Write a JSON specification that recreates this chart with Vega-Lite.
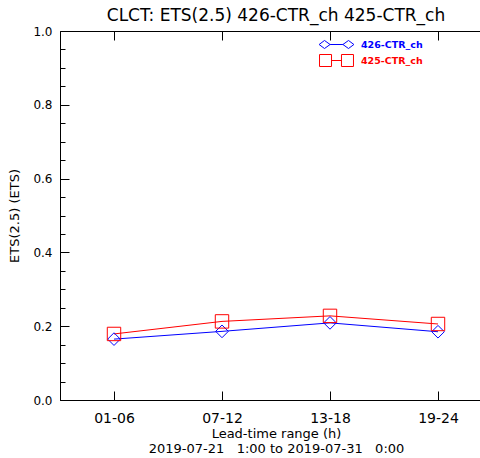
{
  "$schema": "https://vega.github.io/schema/vega-lite/v6.json",
  "autosize": "none",
  "padding": {"left": 60, "top": 31, "right": 10, "bottom": 58},
  "width": 432,
  "height": 369,
  "background": "white",
  "title": {"text": "CLCT: ETS(2.5) 426-CTR_ch 425-CTR_ch", "font": "DejaVu Sans", "fontSize": 17, "fontWeight": "normal", "color": "black", "anchor": "middle", "offset": 0},
  "config": {
    "view": {"stroke": "black", "strokeWidth": 1},
    "axis": {"domainColor": "black", "tickColor": "black", "labelColor": "black", "titleColor": "black", "labelFont": "DejaVu Sans", "titleFont": "DejaVu Sans", "titleFontWeight": "normal", "labelFontWeight": "normal", "grid": false}
  },
  "data": {"values": [
    {"series": "426-CTR_ch", "idx": 1, "range": "01-06", "ets": 0.165},
    {"series": "426-CTR_ch", "idx": 2, "range": "07-12", "ets": 0.186},
    {"series": "426-CTR_ch", "idx": 3, "range": "13-18", "ets": 0.209},
    {"series": "426-CTR_ch", "idx": 4, "range": "19-24", "ets": 0.185},
    {"series": "425-CTR_ch", "idx": 1, "range": "01-06", "ets": 0.179},
    {"series": "425-CTR_ch", "idx": 2, "range": "07-12", "ets": 0.213},
    {"series": "425-CTR_ch", "idx": 3, "range": "13-18", "ets": 0.228},
    {"series": "425-CTR_ch", "idx": 4, "range": "19-24", "ets": 0.206}
  ]},
  "resolve": {"axis": {"x": "independent"}},
  "encoding": {
    "y": {"field": "ets", "type": "quantitative", "scale": {"domain": [0, 1], "nice": false, "zero": false},
      "axis": {"title": "ETS(2.5)  (ETS)", "titleFontSize": 13, "titlePadding": 11,
        "values": [0, 0.05, 0.1, 0.15, 0.2, 0.25, 0.3, 0.35, 0.4, 0.45, 0.5, 0.55, 0.6, 0.65, 0.7, 0.75, 0.8, 0.85, 0.9, 0.95, 1.0],
        "labelExpr": "abs(datum.value*5 - round(datum.value*5)) < 0.01 ? format(datum.value, '.1f') : ''",
        "tickSize": {"condition": {"test": "abs(datum.value*5 - round(datum.value*5)) < 0.01", "value": -9}, "value": -5},
        "labelPadding": 17, "labelFontSize": 12}},
    "color": {"field": "series", "type": "nominal", "sort": ["426-CTR_ch", "425-CTR_ch"], "scale": {"domain": ["426-CTR_ch", "425-CTR_ch"], "range": ["#0000ff", "#ff0000"]},
      "legend": {"title": null, "orient": "none", "legendX": 270, "legendY": 7, "padding": 0, "symbolType": "M-2.9,0L-2,-0.67L-1.07,0L-2,0.67Z M-1.07,0L1.07,0 M1.07,0L2,-0.67L2.9,0L2,0.67Z", "symbolSize": 144, "symbolStrokeWidth": 1, "labelFont": "DejaVu Sans", "labelFontSize": 9.5, "labelFontWeight": "bold", "labelOffset": 18, "rowPadding": 1,
        "encode": {
          "symbols": {"update": {
            "shape": {"signal": "datum.value === '425-CTR_ch' ? 'M-2.83,-1H-0.83V1H-2.83Z M-0.83,0H0.83 M0.83,-1H2.83V1H0.83Z' : 'M-2.9,0L-2,-0.67L-1.07,0L-2,0.67Z M-1.07,0L1.07,0 M1.07,0L2,-0.67L2.9,0L2,0.67Z'"},
            "fill": {"value": "transparent"},
            "stroke": {"signal": "datum.value === '425-CTR_ch' ? '#ff0000' : '#0000ff'"}}},
          "labels": {"update": {"fill": {"signal": "datum.value === '425-CTR_ch' ? '#ff0000' : '#0000ff'"}}}
        }}}
  },
  "layer": [
    {"mark": {"type": "line", "strokeWidth": 1},
     "encoding": {
       "x": {"field": "idx", "type": "quantitative", "scale": {"domain": [0.5, 4.5], "nice": false, "zero": false},
         "axis": {"orient": "bottom", "values": [1, 2, 3, 4], "labelExpr": "['','01-06','07-12','13-18','19-24'][datum.value]", "tickSize": -9, "labelPadding": 20, "labelFontSize": 14,
           "title": ["Lead-time range (h)", "2019-07-21\u00a0\u00a0\u00a01:00 to 2019-07-31\u00a0\u00a0\u00a00:00"], "titleFontSize": 13, "titlePadding": 2, "titleLineHeight": 15}}
     }},
    {"transform": [{"filter": "datum.series === '426-CTR_ch'"}],
     "mark": {"type": "point", "shape": "diamond", "filled": false, "strokeWidth": 1, "opacity": 1, "size": 160},
     "encoding": {
       "x": {"field": "idx", "type": "quantitative",
         "axis": {"orient": "top", "values": [1, 2, 3, 4], "labels": false, "tickSize": -9, "title": null, "domain": false}}
     }},
    {"transform": [{"filter": "datum.series === '425-CTR_ch'"}],
     "mark": {"type": "point", "shape": "square", "filled": false, "strokeWidth": 1, "opacity": 1, "size": 180},
     "encoding": {
       "x": {"field": "idx", "type": "quantitative", "axis": null}
     }}
  ]
}
